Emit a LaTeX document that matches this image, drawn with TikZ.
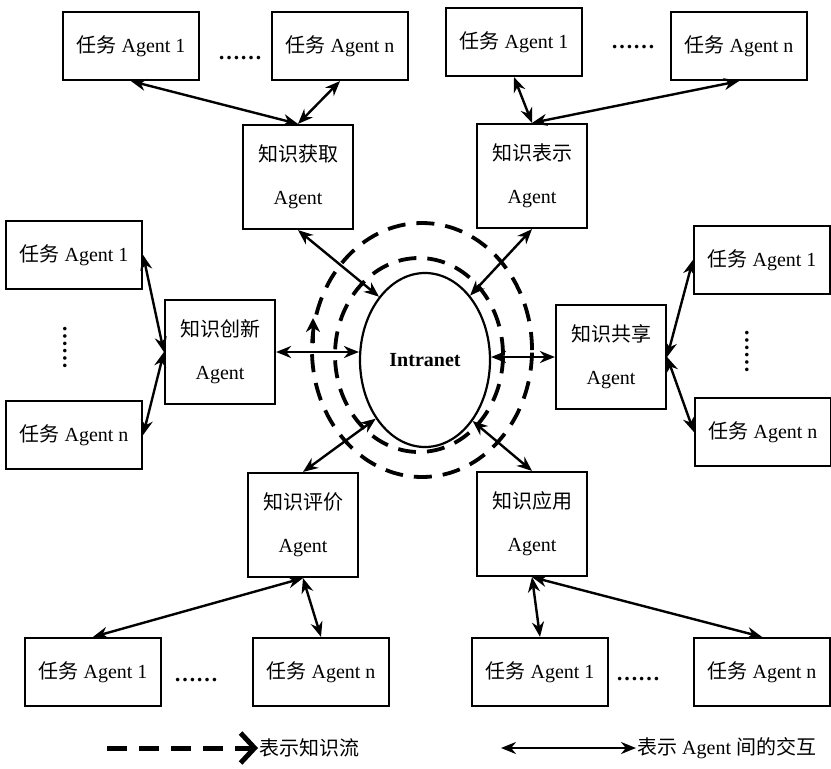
\documentclass[tikz,border=0pt]{standalone}
\usepackage{fontspec}
\setmainfont{Liberation Serif}
\newfontfamily\cjk{Noto Sans CJK SC}
\usetikzlibrary{arrows.meta, shapes.geometric, positioning, calc}
\newcommand{\zh}[1]{{\cjk #1}}

\begin{document}
\begin{tikzpicture}[x=1pt, y=-1pt,
    txt/.style={font=\fontsize{20}{43}\selectfont},
    taskbox/.style={draw, line width=2.2pt, minimum width=136pt, minimum height=68pt, inner sep=2pt, txt},
    agentbox/.style={draw, line width=2.2pt, minimum width=110pt, minimum height=104pt, align=center, txt},
    link/.style={line width=2.4pt, {Stealth[length=15pt,width=12pt]}-{Stealth[length=15pt,width=12pt]}},
    ring/.style={line width=3.8pt, dash pattern=on 18pt off 11pt},
    dots/.style={font=\fontsize{22}{24}\selectfont\bfseries, inner sep=0pt}]
\useasboundingbox (0,0) rectangle (831,769);

% Intranet and the two knowledge-flow rings
\node[draw, ellipse, line width=2.2pt, minimum width=130pt, minimum height=174pt, inner sep=0pt, font=\fontsize{20}{24}\selectfont\bfseries] (net) at (425,360) {Intranet};
\draw[ring] (419,355) ellipse [x radius=84pt, y radius=97pt];
\draw[ring] (422,350) ellipse [x radius=110pt, y radius=127pt];
\draw[line width=3pt, -{Stealth[length=14pt,width=14pt]}] (313,343) -- (313,318);

% knowledge agents
\foreach \n/\x/\y/\t in {acq/298/177/获取, rep/532/176/表示, inn/220/352/创新, shr/611/357/共享, eva/303/525/评价, app/532/524/应用} {
    \node[agentbox] (\n) at (\x,\y) {\zh{知识\t}\\Agent};
}

% task agents
\foreach \n/\x/\y/\k in {tl1/131/46/1, tln/340/46/n, tr1/514/42/1, trn/739/46/n, l1/74/255/1, ln/74/435/n, r1/762/260/1, rn/763/432/n, bl1/93/672/1, bln/321/672/n, br1/540/672/1, brn/762/672/n} {
    \node[taskbox] (\n) at (\x,\y) {\zh{任务} Agent \k};
}

\node[dots] (d1) at (240,58) {\ldots\ldots};
\node[dots] (d2) at (633,47) {\ldots\ldots};
\node[dots] (d3) at (196,680) {\ldots\ldots};
\node[dots] (d4) at (638,679) {\ldots\ldots};
\node[dots, rotate=90] (d5) at (65,347) {\ldots\ldots};
\node[dots, rotate=90] (d6) at (747,351) {\ldots\ldots};

% interactions
\foreach \a/\b in {tl1.south/acq.north, tln.south/acq.north, tr1.south/rep.north, trn.south/rep.north,
    l1.east/inn.west, ln.east/inn.west, r1.west/shr.east, rn.west/shr.east,
    eva.south/bl1.north, eva.south/bln.north, app.south/br1.north, app.south/brn.north,
    acq.south/net.126, rep.south/net.55, eva.north/net.230, app.north/net.308} {
    \draw[link] (\a) -- (\b);
}
\draw[link] (inn.east) -- (inn.east -| net.west);
\draw[link] (shr.west) -- (shr.west -| net.east);

% legend
\coordinate (fa) at (107,748);
\coordinate (fb) at (258,748);
\draw[line width=5pt, dash pattern=on 20pt off 12pt, -{Straight Barb[length=14pt,width=30pt,line width=5pt]}] (fa) -- (fb);
\node[txt, anchor=west, inner sep=1pt] (flowtxt) at (fb) {\zh{表示知识流}};
\coordinate (ia) at (501,748);
\coordinate (ib) at (636,748);
\draw[link] (ia) -- (ib);
\node[txt, anchor=west, inner sep=1pt] (linktxt) at (ib) {\zh{表示} Agent \zh{间的交互}};
\end{tikzpicture}
\end{document}
